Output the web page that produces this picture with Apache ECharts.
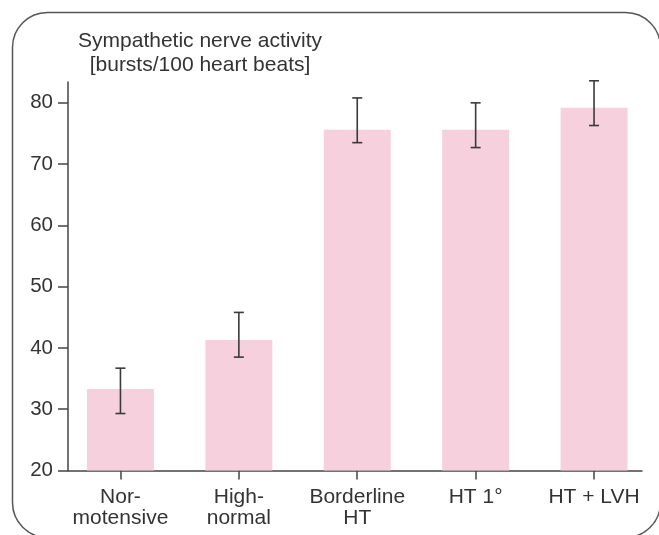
<!DOCTYPE html>
<html>
<head>
<meta charset="utf-8">
<script src="https://cdn.jsdelivr.net/npm/echarts@6/dist/echarts.min.js"></script>
<style>
  html, body { margin: 0; padding: 0; background: #fff; }
  #chart { width: 659px; height: 535px; }
</style>
</head>
<body>
<div id="chart"></div>
<script>
// groups along the x axis
let categories = ['Nor-\nmotensive', 'High-\nnormal', 'Borderline\nHT', 'HT 1°', 'HT + LVH'];
// mean bursts/100 heart beats
let burstValues = [33.3, 41.3, 75.6, 75.6, 79.2];
// error bar ends
let errLow = [29.3, 38.5, 73.5, 72.7, 76.3];
let errHigh = [36.7, 45.8, 80.8, 80.0, 83.6];
let yTicks = [20, 30, 40, 50, 60, 70, 80];

let chart = echarts.init(document.getElementById('chart'));

let xPositions = categories.map((c, i) => i);
let barData = burstValues.map((v, i) => [i, v]);
let errData = errLow.map((v, i) => [i, v, errHigh[i]]);

let option = {
    backgroundColor: '#fff',
    animation: false,
    textStyle: {
        fontFamily: 'Liberation Sans, Arial, sans-serif'
    },
    title: {
        text: 'Sympathetic nerve activity\n[bursts/100 heart beats]',
        left: 195,
        top: 24,
        textAlign: 'center',
        textStyle: {
            fontSize: 21,
            fontWeight: 'normal',
            color: '#333',
            lineHeight: 24,
            align: 'center'
        }
    },
    graphic: [
        {
            type: 'rect',
            shape: {x: 12.5, y: 12.5, width: 648, height: 525, r: 35},
            style: {fill: 'none', stroke: '#555', lineWidth: 1.5},
            silent: true
        }
    ],
    grid: {
        left: 68,
        right: 17,
        top: 82,
        bottom: 64.5
    },
    xAxis: {
        type: 'value',
        min: -0.443,
        max: 4.405,
        splitLine: {show: false},
        axisLine: {onZero: false, lineStyle: {color: '#444', width: 1.5}},
        axisTick: {
            customValues: xPositions,
            length: 9,
            lineStyle: {color: '#444', width: 1.5}
        },
        axisLabel: {
            customValues: xPositions,
            formatter: function (v) {
                return categories[Math.round(v)];
            },
            margin: 16,
            fontSize: 21,
            lineHeight: 21,
            color: '#333'
        }
    },
    yAxis: {
        type: 'value',
        min: 20,
        max: 83.4,
        splitLine: {show: false},
        axisLine: {show: true, onZero: false, lineStyle: {color: '#444', width: 1.5}},
        axisTick: {
            show: true,
            customValues: yTicks,
            length: 10,
            lineStyle: {color: '#444', width: 1.5}
        },
        axisLabel: {
            customValues: yTicks,
            margin: 15,
            fontSize: 20.5,
            color: '#333'
        }
    },
    series: [
        {
            name: 'SNA',
            type: 'bar',
            data: barData,
            barWidth: 67,
            itemStyle: {color: '#f7d0de'}
        },
        {
            name: 'SEM',
            type: 'custom',
            data: errData,
            encode: {x: 0, y: [1, 2]},
            z: 5,
            renderItem: function (params, api) {
                let x = api.value(0);
                let lo = api.coord([x, api.value(1)]);
                let hi = api.coord([x, api.value(2)]);
                let half = 5;
                let st = {stroke: '#3a3a3a', lineWidth: 1.6};
                return {
                    type: 'group',
                    children: [
                        {type: 'line', shape: {x1: lo[0], y1: lo[1], x2: hi[0], y2: hi[1]}, style: st},
                        {type: 'line', shape: {x1: hi[0] - half, y1: hi[1], x2: hi[0] + half, y2: hi[1]}, style: st},
                        {type: 'line', shape: {x1: lo[0] - half, y1: lo[1], x2: lo[0] + half, y2: lo[1]}, style: st}
                    ]
                };
            }
        }
    ]
};

chart.setOption(option);
</script>
</body>
</html>
